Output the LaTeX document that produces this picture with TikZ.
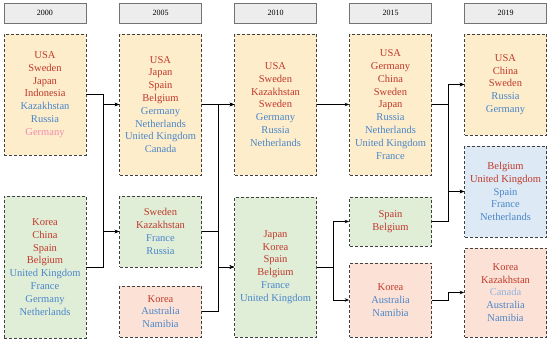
\documentclass[tikz,border=0pt]{standalone}
\usepackage{fontspec}
\setmainfont{Liberation Serif}
\usetikzlibrary{arrows.meta}
\definecolor{flowRed}{HTML}{C0392B}
\definecolor{flowBlue}{HTML}{4A86C8}
\definecolor{flowPink}{HTML}{F08CB0}
\definecolor{flowSky}{HTML}{8FB4E0}
\definecolor{flowSand}{HTML}{FDEDCB}
\definecolor{flowMint}{HTML}{E0EED8}
\definecolor{flowPeach}{HTML}{FCE2D6}
\definecolor{flowIce}{HTML}{DDEAF6}
\definecolor{flowGrey}{HTML}{EDEDED}
\newcommand{\hi}[1]{\textcolor{flowRed}{#1}}
\newcommand{\lo}[1]{\textcolor{flowBlue}{#1}}
\tikzset{
  yearbox/.style={draw=black!55, fill=flowGrey, line width=0.6pt, minimum width=82pt, minimum height=20pt, font=\fontsize{8}{9}\selectfont},
  groupbox/.style={draw=black!75, densely dashed, line width=0.7pt, minimum width=82pt, align=center, font=\fontsize{10.5}{12.8}\selectfont},
  flow/.style={line width=0.8pt, -{Stealth[length=4.5pt, width=3.5pt]}}
}
\begin{document}
\begin{tikzpicture}[x=1pt, y=-1pt]
\useasboundingbox (0,0) rectangle (550,343);
% year headers
\foreach \x/\yr [count=\i] in {45/2000, 160.5/2005, 275.5/2010, 390.5/2015, 505.5/2019} {
  \node[yearbox] (yr\i) at (\x,13) {\yr};
}
% 2000
\node[groupbox, fill=flowSand, minimum height=121pt] (c1a) at (45,94.5)
  {\hi{USA}\\\hi{Sweden}\\\hi{Japan}\\\hi{Indonesia}\\\lo{Kazakhstan}\\\lo{Russia}\\\textcolor{flowPink}{Germany}};
\node[groupbox, fill=flowMint, minimum height=142pt] (c1b) at (45,267)
  {\hi{Korea}\\\hi{China}\\\hi{Spain}\\\hi{Belgium}\\\lo{United Kingdom}\\\lo{France}\\\lo{Germany}\\\lo{Netherlands}};
% 2005
\node[groupbox, fill=flowSand, minimum height=141pt] (c2a) at (160.5,104.5)
  {\hi{USA}\\\hi{Japan}\\\hi{Spain}\\\hi{Belgium}\\\lo{Germany}\\\lo{Netherlands}\\\lo{United Kingdom}\\\lo{Canada}};
\node[groupbox, fill=flowMint, minimum height=71pt] (c2b) at (160.5,231.5)
  {\hi{Sweden}\\\hi{Kazakhstan}\\\lo{France}\\\lo{Russia}};
\node[groupbox, fill=flowPeach, minimum height=51pt] (c2c) at (160.5,311.5)
  {\hi{Korea}\\\lo{Australia}\\\lo{Namibia}};
% 2010
\node[groupbox, fill=flowSand, minimum height=141pt] (c3a) at (275.5,104.5)
  {\hi{USA}\\\hi{Sweden}\\\hi{Kazakhstan}\\\hi{Sweden}\\\lo{Germany}\\\lo{Russia}\\\lo{Netherlands}};
\node[groupbox, fill=flowMint, minimum height=140pt] (c3b) at (275.5,267)
  {\hi{Japan}\\\hi{Korea}\\\hi{Spain}\\\hi{Belgium}\\\lo{France}\\\lo{United Kingdom}};
% 2015
\node[groupbox, fill=flowSand, minimum height=141pt] (c4a) at (390.5,104.5)
  {\hi{USA}\\\hi{Germany}\\\hi{China}\\\hi{Sweden}\\\hi{Japan}\\\lo{Russia}\\\lo{Netherlands}\\\lo{United Kingdom}\\\lo{France}};
\node[groupbox, fill=flowMint, minimum height=49pt] (c4b) at (390.5,221.5)
  {\hi{Spain}\\\hi{Belgium}};
\node[groupbox, fill=flowPeach, minimum height=74pt] (c4c) at (390.5,300)
  {\hi{Korea}\\\lo{Australia}\\\lo{Namibia}};
% 2019
\node[groupbox, fill=flowSand, minimum height=101pt] (c5a) at (505.5,84.5)
  {\hi{USA}\\\hi{China}\\\hi{Sweden}\\\lo{Russia}\\\lo{Germany}};
\node[groupbox, fill=flowIce, minimum height=91pt] (c5b) at (505.5,191.5)
  {\hi{Belgium}\\\hi{United Kingdom}\\\lo{Spain}\\\lo{France}\\\lo{Netherlands}};
\node[groupbox, fill=flowPeach, minimum height=89pt] (c5c) at (505.5,292.5)
  {\hi{Korea}\\\hi{Kazakhstan}\\\textcolor{flowSky}{Canada}\\\lo{Australia}\\\lo{Namibia}};
% connectors
\foreach \a/\b in {c1a/c2a, c1a/c2b, c1b/c2a, c1b/c2b,
                   c2a/c3a, c2a/c3b, c2b/c3a, c2b/c3b, c2c/c3a, c2c/c3b,
                   c3a/c4a, c3b/c4b, c3b/c4c,
                   c4a/c5a, c4a/c5b, c4b/c5a, c4b/c5b, c4c/c5c} {
  \draw[flow] (\a.east) -- ++(17,0) |- (\b.west);
}
\end{tikzpicture}
\end{document}
